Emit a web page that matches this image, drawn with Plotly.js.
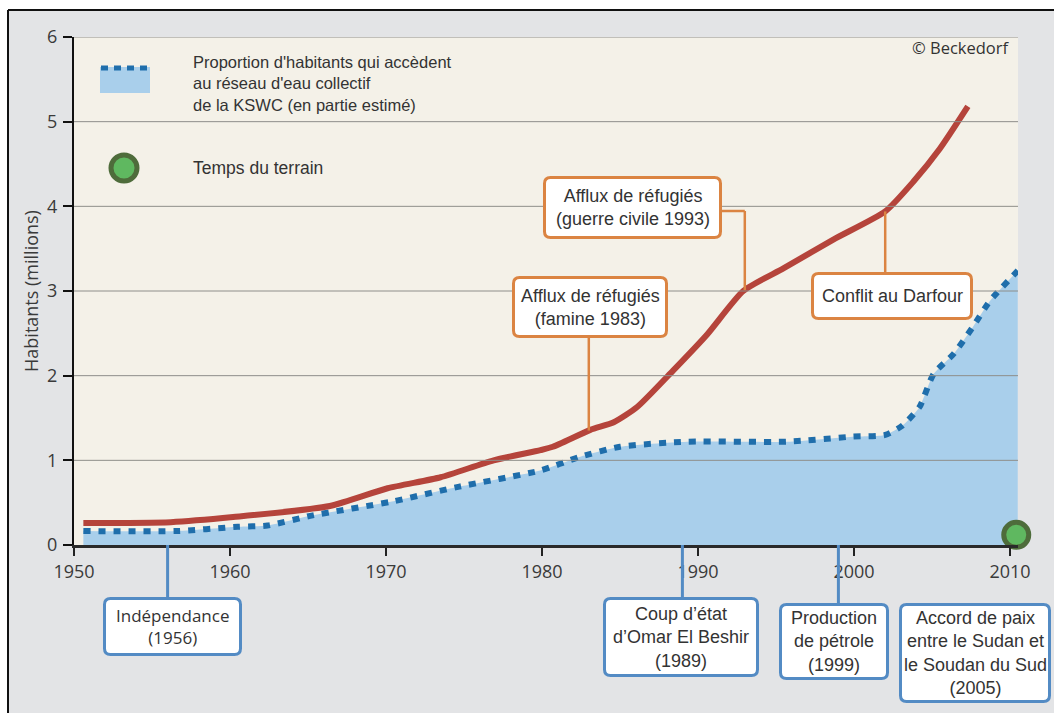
<!DOCTYPE html>
<html>
<head>
<meta charset="utf-8">
<script src="https://cdn.plot.ly/plotly-3.0.1.min.js"></script>
<style>html,body{margin:0;padding:0;background:#fff;}#chart{width:1054px;height:713px;}</style>
</head>
<body>
<div id="chart"></div>
<script>
// ---- data ----
const popYears = [1950.6, 1956.2, 1960.2, 1966.4, 1970.1, 1973.5, 1976.9, 1979.9, 1980.7, 1983.1, 1984.6, 1986.1, 1988.4, 1990.6, 1992.9, 1995.5, 1998.7, 2002.0, 2003.8, 2005.5, 2007.3];
const population = [0.26, 0.27, 0.33, 0.46, 0.67, 0.80, 1.00, 1.12, 1.16, 1.36, 1.45, 1.63, 2.06, 2.49, 3.00, 3.27, 3.61, 3.94, 4.29, 4.68, 5.18];

const accessYears = [1950.6, 1956.6, 1960.5, 1962.4, 1965.3, 1970.3, 1974.7, 1979.9, 1982.4, 1985.0, 1989.3, 1995.7, 1999.9, 2002.0, 2003.1, 2004.2, 2005.1, 2006.4, 2007.6, 2008.7, 2010.5];
const access = [0.165, 0.165, 0.215, 0.23, 0.35, 0.51, 0.69, 0.88, 1.04, 1.16, 1.22, 1.22, 1.28, 1.30, 1.41, 1.63, 2.02, 2.26, 2.57, 2.88, 3.24];

const fieldYear = [2010.4];
const fieldValue = [0.12];

const xTicks = [1950, 1960, 1970, 1980, 1990, 2000, 2010];
const yTicks = [0, 1, 2, 3, 4, 5, 6];

const refugeeEvents = [1983, 1993, 2002];
const refugeeLabels = ["Afflux de réfugiés<br>(famine 1983)", "Afflux de réfugiés<br>(guerre civile 1993)", "Conflit au Darfour"];

const politicalEvents = [1956, 1989, 1999, 2005];
const politicalLabels = ["Indépendance<br>(1956)", "Coup d’état<br>d’Omar El Beshir<br>(1989)", "Production<br>de pétrole<br>(1999)", "Accord de paix<br>entre le Sudan et<br>le Soudan du Sud<br>(2005)"];

const legendText = "Proportion d'habitants qui accèdent<br>au réseau d'eau collectif<br>de la KSWC (en partie estimé)";
const legendField = "Temps du terrain";
const yTitle = "Habitants (millions)";
const credit = "© Beckedorf";

// ---- layout helpers (pixel -> paper / data) ----
const L = 74, R = 1018, T = 37, B = 545;
const XMIN = 1950, XMAX = 1950 + (R - L) / 15.6;
const px = p => (p - L) / (R - L);
const py = p => (B - p) / (B - T);
const dx = p => XMIN + (p - L) / (R - L) * (XMAX - XMIN);
const dy = p => (B - p) / (B - T) * 6;
function curveAt(xs, ys, x) {
  for (let i = 0; i < xs.length - 1; i++) {
    if (x >= xs[i] && x <= xs[i + 1]) {
      const t = (x - xs[i]) / (xs[i + 1] - xs[i]);
      return ys[i] + t * (ys[i + 1] - ys[i]);
    }
  }
  return ys[ys.length - 1];
}
// rounded rectangle path in paper coordinates, from pixel box
function roundRect(x0, y0, x1, y1, r) {
  const P = (a, b) => px(a).toFixed(5) + ',' + py(b).toFixed(5);
  return 'M' + P(x0 + r, y0) + ' L' + P(x1 - r, y0) + ' Q' + P(x1, y0) + ' ' + P(x1, y0 + r) +
    ' L' + P(x1, y1 - r) + ' Q' + P(x1, y1) + ' ' + P(x1 - r, y1) +
    ' L' + P(x0 + r, y1) + ' Q' + P(x0, y1) + ' ' + P(x0, y1 - r) +
    ' L' + P(x0, y0 + r) + ' Q' + P(x0, y0) + ' ' + P(x0 + r, y0) + ' Z';
}

const RED = '#b5443b', BLUE = '#1f6eab', FILL = '#a9cfeb';
const ORANGE = '#db8442', BOXBLUE = '#538bc4';
const GREEN = '#5fb860', DGREEN = '#4e6c3b';
const TXT = '#333333';

const traces = [
  {x: accessYears, y: access, type: 'scatter', mode: 'lines', fill: 'tozeroy', fillcolor: FILL,
   line: {color: BLUE, width: 6, dash: '7px,8px', shape: 'spline', smoothing: 0.6}, hoverinfo: 'skip', showlegend: false},
  {x: popYears, y: population, type: 'scatter', mode: 'lines',
   line: {color: RED, width: 6, shape: 'spline', smoothing: 0.6}, hoverinfo: 'skip', showlegend: false},
  {x: fieldYear, y: fieldValue, type: 'scatter', mode: 'markers', cliponaxis: false,
   marker: {size: 25, color: GREEN, line: {color: DGREEN, width: 5}}, hoverinfo: 'skip', showlegend: false}
];

const shapes = [];
// outer frame: white strips + black border (top and left)
shapes.push({type: 'rect', xref: 'paper', yref: 'paper', x0: -0.2, x1: 1.2, y0: py(10), y1: py(-20), fillcolor: '#ffffff', line: {width: 0}, layer: 'above'});
shapes.push({type: 'rect', xref: 'paper', yref: 'paper', x0: px(-20), x1: px(8), y0: py(740), y1: py(-20), fillcolor: '#ffffff', line: {width: 0}, layer: 'above'});
shapes.push({type: 'line', xref: 'paper', yref: 'paper', x0: px(8), x1: 1.2, y0: py(10), y1: py(10), line: {color: '#111', width: 2}, layer: 'above'});
shapes.push({type: 'line', xref: 'paper', yref: 'paper', x0: px(8), x1: px(8), y0: py(10), y1: py(740), line: {color: '#111', width: 2}, layer: 'above'});

// grid lines (above the blue fill, as in the reference)
yTicks.filter(v => v > 0).forEach(v => {
  shapes.push({type: 'line', xref: 'paper', yref: 'y', x0: 0, x1: 1, y0: v, y1: v, line: {color: '#8e8e8a', width: 1}, layer: 'above'});
});

// legend symbols
shapes.push({type: 'rect', xref: 'paper', yref: 'paper', x0: px(100), x1: px(150), y0: py(93), y1: py(67), fillcolor: FILL, line: {width: 0}, layer: 'above'});
shapes.push({type: 'line', xref: 'paper', yref: 'paper', x0: px(101), x1: px(150), y0: py(68), y1: py(68), line: {color: BLUE, width: 5, dash: '7px,6px'}, layer: 'above'});
shapes.push({type: 'circle', xref: 'paper', yref: 'paper', x0: px(111), x1: px(137), y0: py(181), y1: py(155), fillcolor: GREEN, line: {color: DGREEN, width: 5}, layer: 'above'});

// refugee connectors (orange)
const famineTop = dy(338);
shapes.push({type: 'line', xref: 'x', yref: 'y', x0: refugeeEvents[0], x1: refugeeEvents[0], y0: curveAt(popYears, population, refugeeEvents[0]), y1: famineTop, line: {color: ORANGE, width: 2.5}, layer: 'above'});
const civilY = dy(211);
shapes.push({type: 'line', xref: 'x', yref: 'y', x0: dx(721), x1: refugeeEvents[1], y0: civilY, y1: civilY, line: {color: ORANGE, width: 2.5}, layer: 'above'});
shapes.push({type: 'line', xref: 'x', yref: 'y', x0: refugeeEvents[1], x1: refugeeEvents[1], y0: civilY, y1: curveAt(popYears, population, refugeeEvents[1]), line: {color: ORANGE, width: 2.5}, layer: 'above'});
shapes.push({type: 'line', xref: 'x', yref: 'y', x0: refugeeEvents[2], x1: refugeeEvents[2], y0: curveAt(popYears, population, refugeeEvents[2]), y1: dy(272), line: {color: ORANGE, width: 2.5}, layer: 'above'});

// political connectors (blue), from the x axis down to the boxes
const boxTops = [597, 597, 603];
for (let i = 0; i < 3; i++) {
  shapes.push({type: 'line', xref: 'x', yref: 'paper', x0: politicalEvents[i], x1: politicalEvents[i], y0: 0, y1: py(boxTops[i] + 1), line: {color: BOXBLUE, width: 3}, layer: 'above'});
}

const annotations = [];
// legend texts
annotations.push({xref: 'paper', yref: 'paper', x: px(191), y: py(84), xanchor: 'left', yanchor: 'middle', align: 'left', text: legendText, showarrow: false, font: {family: 'Liberation Sans, Arial, sans-serif', size: 16.5, color: TXT}});
annotations.push({xref: 'paper', yref: 'paper', x: px(191), y: py(168), xanchor: 'left', yanchor: 'middle', text: legendField, showarrow: false, font: {family: 'Liberation Sans, Arial, sans-serif', size: 17.5, color: TXT}});
annotations.push({xref: 'paper', yref: 'paper', x: px(1012), y: py(48), xanchor: 'right', yanchor: 'middle', text: credit, showarrow: false, font: {family: 'Open Sans, sans-serif', size: 16.5, color: TXT}});

// boxes: [centerX px, centerY px, width, height]
function addBox(b, text, color, font) {
  const x0 = b[0] - b[2] / 2, x1 = b[0] + b[2] / 2, y0 = b[1] - b[3] / 2, y1 = b[1] + b[3] / 2;
  shapes.push({type: 'path', xref: 'paper', yref: 'paper', path: roundRect(x0 + 1.5, y0 + 1.5, x1 - 1.5, y1 - 1.5, 6),
    fillcolor: '#ffffff', line: {color: color, width: 3}, layer: 'above'});
  annotations.push({xref: 'paper', yref: 'paper', x: px(b[0]), y: py(b[1]), xanchor: 'center', yanchor: 'middle', text: text, showarrow: false,
    font: font});
}
const refugeeBoxes = [[590, 307, 156, 62], [632.5, 207.5, 179, 63], [892, 296, 162, 48]];
refugeeLabels.forEach((t, i) => addBox(refugeeBoxes[i], t, ORANGE, {family: 'Liberation Sans, Arial, sans-serif', size: 18, color: TXT}));
const politicalBoxes = [[172.5, 626.5, 139, 59], [681, 637, 156, 80], [834, 641.5, 110, 77], [975, 653, 152, 100]];
politicalLabels.forEach((t, i) => addBox(politicalBoxes[i], t, BOXBLUE,
  {family: i === 0 ? 'Open Sans, sans-serif' : 'Liberation Sans, Arial, sans-serif', size: i === 0 ? 17 : 18, color: TXT}));

const layout = {
  width: 1054, height: 713,
  margin: {l: L, r: 1054 - R, t: T, b: 713 - B, pad: 0},
  paper_bgcolor: '#e3e4e6',
  plot_bgcolor: '#f4f1e8',
  showlegend: false,
  xaxis: {range: [XMIN, XMAX], tickvals: xTicks, ticktext: xTicks.map(String), ticks: 'outside', ticklen: 8, tickwidth: 2, tickcolor: '#222',
    showline: true, linecolor: '#2a2a2a', linewidth: 3, showgrid: false, zeroline: false, ticklabelstandoff: 0,
    tickfont: {family: 'Open Sans, sans-serif', size: 18, color: '#3a3a3a'}, fixedrange: true},
  yaxis: {range: [0, 6], tickvals: yTicks, ticks: 'outside', ticklen: 9, tickwidth: 2, tickcolor: '#111',
    showline: true, linecolor: '#111', linewidth: 2, showgrid: false, zeroline: false, ticklabelstandoff: 2,
    tickfont: {family: 'Open Sans, sans-serif', size: 18, color: '#3a3a3a'}, fixedrange: true,
    title: {text: yTitle, standoff: 4, font: {family: 'Open Sans, sans-serif', size: 18, color: '#3a3a3a'}}},
  shapes: shapes,
  annotations: annotations
};

Plotly.newPlot('chart', traces, layout, {displayModeBar: false, staticPlot: true});
</script>
</body>
</html>
